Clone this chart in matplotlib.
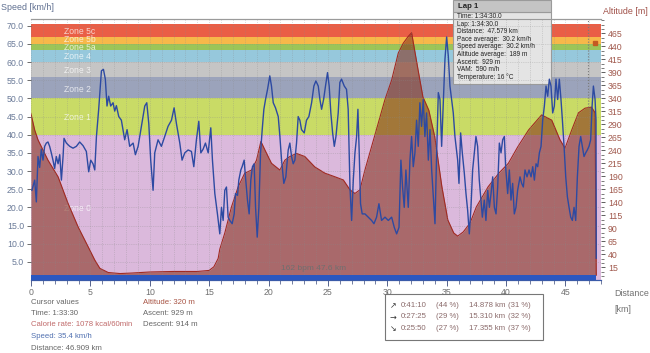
import matplotlib
matplotlib.use("Agg")
import matplotlib.pyplot as plt
from matplotlib.patches import Rectangle
from matplotlib.ticker import MultipleLocator, FormatStrFormatter, AutoMinorLocator

plt.rcParams['font.family'] = ['Liberation Sans', 'DejaVu Sans']

# ---- data ----
speed_km = [0.08, 0.31, 0.45, 0.59, 0.73, 0.87, 1.01, 1.15, 1.29, 1.43, 1.57, 1.71, 1.85, 1.99,
            2.13, 2.28, 2.42, 2.56, 2.70, 2.78, 2.98, 3.26, 3.54, 3.82, 4.10, 4.38, 4.66, 4.86,
            5.03, 5.22, 5.37, 5.51, 5.70, 5.93, 6.10, 6.26, 6.40, 6.54, 6.71, 6.91, 7.05, 7.19,
            7.39, 7.61, 7.89, 8.09, 8.31, 8.60, 8.79, 9.02, 9.30, 9.58, 9.75, 9.92, 10.08, 10.28,
            10.42, 10.70, 10.98, 11.26, 11.54, 11.83, 12.05, 12.25, 12.53, 12.72, 12.95, 13.23,
            13.51, 13.71, 13.93, 14.13, 14.30, 14.49, 14.69, 14.92, 15.14, 15.28, 15.48, 15.70,
            15.90, 16.04, 16.18, 16.32, 16.46, 16.60, 16.74, 16.94, 17.11, 17.22, 17.39, 17.50,
            17.67, 17.78, 17.95, 18.06, 18.23, 18.37, 18.51, 18.65, 18.79, 18.91, 19.05, 19.19,
            19.33, 19.47, 19.61, 19.75, 19.92, 20.11, 20.25, 20.40, 20.59, 20.82, 20.96, 21.10,
            21.29, 21.46, 21.66, 21.80, 21.94, 22.08, 22.22, 22.36, 22.50, 22.64, 22.78, 23.01,
            23.20, 23.40, 23.63, 23.82, 23.99, 24.19, 24.33, 24.47, 24.64, 24.80, 24.97, 25.11,
            25.25, 25.40, 25.54, 25.68, 25.87, 26.01, 26.15, 26.38, 26.57, 26.71, 26.86, 27.00,
            27.14, 27.28, 27.42, 27.53, 27.64, 27.75, 27.89, 28.12, 28.40, 28.68, 28.88, 29.10,
            29.30, 29.52, 29.81, 30.09, 30.37, 30.59, 30.79, 30.99, 31.15, 31.29, 31.43, 31.57,
            31.77, 31.91, 32.05, 32.19, 32.33, 32.47, 32.61, 32.75, 32.89, 33.03, 33.17, 33.31,
            33.46, 33.60, 33.74, 33.88, 34.02, 34.16, 34.30, 34.44, 34.58, 34.72, 34.86, 35.00,
            35.14, 35.28, 35.42, 35.56, 35.70, 35.93, 36.04, 36.18, 36.32, 36.49, 36.63, 36.77,
            36.91, 37.05, 37.19, 37.33, 37.47, 37.61, 37.75, 37.89, 38.01, 38.17, 38.31, 38.46,
            38.60, 38.74, 38.88, 39.02, 39.16, 39.30, 39.44, 39.58, 39.72, 39.86, 39.97, 40.14,
            40.28, 40.42, 40.56, 40.70, 40.84, 40.98, 41.18, 41.32, 41.46, 41.60, 41.77, 41.94,
            42.11, 42.25, 42.39, 42.53, 42.67, 42.81, 42.95, 43.09, 43.23, 43.37, 43.51, 43.65,
            43.79, 43.93, 44.07, 44.21, 44.35, 44.49, 44.63, 44.75, 44.89, 45.03, 45.17, 45.31,
            45.45, 45.59, 45.73, 45.87, 46.01, 46.15, 46.29, 46.43, 46.57, 46.71, 46.85, 46.99,
            47.13, 47.25, 47.36, 47.50, 47.58, 47.60]
speed = [24.7, 27.5, 21.5, 34.0, 31.0, 36.0, 33.0, 36.8, 37.7, 38.0, 36.8, 35.0, 33.0, 30.7,
         34.0, 32.0, 34.5, 27.5, 34.0, 39.0, 37.7, 36.8, 36.3, 36.8, 38.0, 37.0, 35.4, 29.8,
         33.0, 32.0, 30.3, 39.5, 47.0, 57.6, 58.0, 55.3, 47.9, 50.6, 47.9, 48.8, 46.5, 48.0,
         45.0, 44.0, 38.6, 41.4, 36.8, 37.7, 34.5, 36.8, 42.3, 47.9, 48.8, 43.0, 33.0, 24.7,
         35.0, 38.6, 36.8, 39.5, 42.3, 44.0, 47.4, 43.0, 37.7, 33.0, 35.0, 35.8,
         35.4, 31.2, 38.6, 43.7, 35.0, 36.0, 37.7, 35.0, 41.9, 33.0, 23.8, 18.2,
         12.7, 20.0, 16.4, 24.7, 25.6, 17.3, 16.4, 15.5, 18.2, 23.8, 23.3, 27.5,
         30.3, 31.2, 33.0, 28.4, 22.0, 18.2, 27.5, 31.2, 32.0, 20.0, 11.8, 20.0,
         35.0, 41.4, 47.0, 49.7, 52.5, 56.2, 53.4, 48.8, 47.4, 45.0, 39.5, 33.0,
         26.6, 28.4, 35.8, 37.7, 34.0, 32.0, 33.0, 37.7, 45.0, 44.0, 41.4, 40.5,
         44.0, 45.0, 48.8, 53.4, 54.8, 53.4, 49.7, 47.0, 49.7, 53.4, 57.1, 53.4,
         46.0, 40.5, 36.8, 39.5, 46.0, 54.4, 55.3, 53.4, 52.5, 47.0, 25.6, 16.4,
         27.5, 35.0, 39.5, 47.0, 35.0, 21.0, 18.2, 18.2, 17.3, 16.4, 15.5, 17.3,
         21.0, 16.4, 17.3, 16.4, 17.3, 14.5, 12.7, 14.5, 33.0, 25.6, 20.0, 30.3,
         20.0, 33.0, 39.5, 31.2, 35.0, 44.0, 36.8, 48.8, 42.3, 49.7, 39.5, 46.0,
         33.0, 41.4, 30.3, 22.9, 15.5, 35.0, 51.6, 49.7, 36.8, 48.8, 60.8, 66.9,
         61.7, 53.4, 49.7, 46.0, 39.5, 33.0, 26.6, 40.5, 35.0, 29.4, 23.8, 19.2,
         12.7, 20.0, 30.3, 35.0, 39.5, 36.8, 27.5, 22.0, 17.3, 22.0, 16.4, 24.7,
         20.0, 23.8, 28.4, 20.0, 18.2, 25.6, 37.7, 35.0, 38.6, 39.5, 31.2, 23.8,
         30.3, 22.0, 26.6, 18.2, 20.0, 24.7, 28.4, 26.6, 25.6, 30.3, 28.4, 30.3,
         28.4, 31.2, 27.5, 32.0, 31.2, 35.0, 36.8, 44.0, 47.9, 53.4, 50.6, 55.3,
         53.4, 46.0, 47.9, 55.3, 49.7, 55.3, 49.7, 44.0, 36.8, 28.4, 22.9, 20.0,
         17.3, 16.4, 20.0, 16.4, 28.4, 36.8, 39.5, 36.8, 34.0, 35.0, 35.8, 36.8,
         38.6, 47.9, 53.4, 49.7, 44.0, 6.0]

alt_km = [0.0, 0.31, 0.59, 1.0, 1.43, 2.28, 3.1, 3.96, 4.8, 5.37, 5.8, 6.5, 7.5, 8.5, 10.0,
          12.0, 14.0, 15.0, 15.4, 15.76, 15.9, 16.32, 16.88, 17.45, 18.0, 18.57, 18.99, 19.36,
          19.69, 20.25, 20.96, 21.38, 21.8, 22.36, 23.06, 23.9, 24.75, 25.6, 26.3, 26.86, 27.28,
          27.7, 28.12, 28.68, 29.24, 29.8, 30.37, 30.93, 31.35, 31.77, 32.05, 32.6, 33.0, 33.5,
          34.0, 34.6, 35.1, 35.6, 35.93, 36.4, 36.97, 37.5, 38.5, 39.4, 40.2, 41.0, 41.9, 43.0,
          43.85, 44.55, 44.97, 45.5, 46.1, 46.66, 47.2, 47.5, 47.6]
altitude = [310, 279, 260, 241, 221, 189, 139, 93, 55, 29, 13, 5, 3, 4, 6,
            7, 7, 9, 16, 32, 50, 81, 131, 170, 196, 202, 221, 257,
            241, 215, 202, 221, 228, 234, 228, 208, 196, 189, 183, 164, 157,
            164, 202, 247, 292, 337, 375, 427, 446, 459, 466, 394, 343, 317,
            266, 170, 106, 81, 75, 83, 100, 131, 170, 196, 215, 247, 279, 308,
            298, 260, 244, 277, 312, 321, 323, 312, 0]

zone_names = ["Zone 0", "Zone 1", "Zone 2", "Zone 3", "Zone 4", "Zone 5a", "Zone 5b", "Zone 5c"]
zone_low = [0, 40, 50, 55.8, 60, 63.4, 65.1, 66.9]
zone_high = [40, 50, 55.8, 60, 63.4, 65.1, 66.9, 70.4]
zone_colors = ["#dbb9dc", "#c9db66", "#9ba3bb", "#c5c5c5", "#96c8dc", "#9cc558", "#f7b84a", "#ea5e46"]
zone_label_y = [19.7, 44.8, 52.5, 57.6, 61.5, 64.1, 66.2, 68.5]

hr_end_km = 47.6
cursor_km = 46.909
cursor_speed = 47.5

speed_ticks = [5, 10, 15, 20, 25, 30, 35, 40, 45, 50, 55, 60, 65, 70]
alt_ticks = list(range(15, 466, 25))

lap_lines = ["Time: 1:34:30.0", "Lap: 1:34:30.0", "Distance:  47.579 km",
             "Pace average:  30.2 km/h", "Speed average:  30.2 km/h",
             "Altitude average:  189 m", "Ascent:  929 m", "VAM:  590 m/h",
             "Temperature: 16 \u00b0C"]

trend_arrows = ["\u2197", "\u2192", "\u2198"]
trend_time = ["0:41:10", "0:27:25", "0:25:50"]
trend_time_pct = ["(44 %)", "(29 %)", "(27 %)"]
trend_dist = ["14.878 km", "15.310 km", "17.355 km"]
trend_dist_pct = ["(31 %)", "(32 %)", "(37 %)"]

W, H = 650, 353


def fx(px):
    return px / W


def fy(py):
    return 1 - py / H


fig = plt.figure(figsize=(W / 100, H / 100), dpi=100)
ax = fig.add_axes([fx(31), fy(280), (601 - 31) / W, (280 - 18.5) / H])
ax2 = ax.twinx()
ax.set_zorder(ax2.get_zorder() + 1)
ax.patch.set_visible(False)
ax2.set_facecolor("#e8e8e8")

ax.set_xlim(0, 48)
ax.set_ylim(0, 72)
ax2.set_ylim(-9.4, 493.4)

# zones (drawn on the lower axes, in speed units)
for lo, hi, c in zip(zone_low, zone_high, zone_colors):
    ax2.fill_between([0, 48], lo, hi, color=c, lw=0, transform=ax.transData, zorder=0)
for name, yy in zip(zone_names, zone_label_y):
    ax2.text(2.8, yy, name, transform=ax.transData, color="white", alpha=0.75,
             fontsize=6.2, va="center", ha="left", zorder=1)

# altitude profile
ax2.fill_between(alt_km, 0, altitude, color="#86301a", alpha=0.58, lw=0, zorder=2)
ax2.plot(alt_km, altitude, color="#a02a22", lw=0.8, zorder=3)

# grid, heart-rate band, speed
ax.xaxis.set_major_locator(MultipleLocator(5))
ax.xaxis.set_minor_locator(MultipleLocator(1))
ax.grid(which="both", axis="x", color="#8a8a8a", ls=":", lw=0.5, alpha=0.55)
ax.grid(which="major", axis="y", color="#8a8a8a", ls=":", lw=0.5, alpha=0.55)
ax.fill_between([0, hr_end_km], 0, 1.4, color="#2b57c0", lw=0, zorder=2)
ax.text(23.8, 3.2, "162 bpm 47.6 km", color="#6f6f6f", fontsize=6, ha="center", va="center")
ax.plot(speed_km, speed, color="#2d4aa2", lw=1.0, zorder=4)
ax.vlines(cursor_km, cursor_speed, 72, colors="#7a7a7a", linestyles=":", lw=0.8, zorder=3)
ax.plot([47.5], [65.3], marker="s", ms=2.5, color="#c45a22", zorder=5)

# axes styling
ax.set_yticks(speed_ticks)
ax.yaxis.set_major_formatter(FormatStrFormatter("%.1f"))
ax.tick_params(axis="y", labelsize=6.3, labelcolor="#6a7a98", color="#555555", length=3,
               width=0.6, pad=2)
ax.tick_params(axis="x", which="major", labelsize=6.3, labelcolor="#707070", color="#3a4a7a",
               length=4, width=0.6, pad=1.5)
ax.tick_params(axis="x", which="minor", color="#3a4a7a", length=3, width=0.5)
ax2.set_yticks(alt_ticks)
ax2.yaxis.set_minor_locator(AutoMinorLocator(3))
ax2.tick_params(axis="y", which="major", labelsize=6.3, labelcolor="#a0584c", color="#444444",
                length=3, width=0.6, pad=2)
ax2.tick_params(axis="y", which="minor", color="#444444", length=2, width=0.5)
for a in (ax, ax2):
    a.spines["left"].set_visible(False)
    a.spines["right"].set_visible(False)
    a.spines["top"].set_color("#9a9a9a")
    a.spines["top"].set_linewidth(0.8)
    a.spines["bottom"].set_color("#3a5aa8")
    a.spines["bottom"].set_linewidth(0.8)

fig.text(fx(1), fy(8), "Speed [km/h]", color="#5f6f90", fontsize=6.4, va="center")
fig.text(fx(603), fy(11), "Altitude [m]", color="#a05048", fontsize=6.4, va="center")
fig.text(fx(614), fy(293), "Distance", color="#707070", fontsize=6.4, va="center")
fig.text(fx(614), fy(310), "[km]", color="#707070", fontsize=6.4, va="center")

# lap tooltip
fig.add_artist(Rectangle((fx(453), fy(84)), 98 / W, 72 / H, transform=fig.transFigure,
                         facecolor="#e4e4e4", edgecolor="#9a9a9a", lw=0.8))
fig.add_artist(Rectangle((fx(453), fy(12)), 98 / W, 12 / H, transform=fig.transFigure,
                         facecolor="#c4c4c4", edgecolor="#9a9a9a", lw=0.8))
fig.text(fx(458), fy(6), "Lap 1", fontsize=5.6, fontweight="bold", color="#222222", va="center")
for i, line in enumerate(lap_lines):
    fig.text(fx(457), fy(16.5 + i * 7.6), line, fontsize=4.7, color="#222222", va="center")

# cursor values
fig.text(fx(31), fy(302), "Cursor values", fontsize=5.6, color="#666666", va="center")
fig.text(fx(31), fy(313.5), "Time: 1:33:30", fontsize=5.6, color="#666666", va="center")
fig.text(fx(31), fy(325), "Calorie rate: 1078 kcal/60min", fontsize=5.6, color="#c06a6a", va="center")
fig.text(fx(31), fy(336.5), "Speed: 35.4 km/h", fontsize=5.6, color="#5070b0", va="center")
fig.text(fx(31), fy(348), "Distance: 46.909 km", fontsize=5.6, color="#666666", va="center")
fig.text(fx(143), fy(302), "Altitude: 320 m", fontsize=5.6, color="#a85444", va="center")
fig.text(fx(143), fy(313.5), "Ascent: 929 m", fontsize=5.6, color="#666666", va="center")
fig.text(fx(143), fy(325), "Descent: 914 m", fontsize=5.6, color="#666666", va="center")

# ascent / flat / descent table
fig.add_artist(Rectangle((fx(385), fy(340)), 158 / W, 46 / H, transform=fig.transFigure,
                         facecolor="white", edgecolor="#777777", lw=0.8))
for i in range(3):
    yy = fy(305.5 + i * 11.5)
    fig.text(fx(390), yy, trend_arrows[i], fontsize=5.8, color="#333333", va="center",
             family=["DejaVu Sans"])
    fig.text(fx(401), yy, trend_time[i], fontsize=5.6, color="#8a6a6a", va="center")
    fig.text(fx(436), yy, trend_time_pct[i], fontsize=5.6, color="#8a6a6a", va="center")
    fig.text(fx(469), yy, trend_dist[i], fontsize=5.6, color="#8a6a6a", va="center")
    fig.text(fx(508), yy, trend_dist_pct[i], fontsize=5.6, color="#8a6a6a", va="center")

fig.savefig("out.png", dpi=100)
